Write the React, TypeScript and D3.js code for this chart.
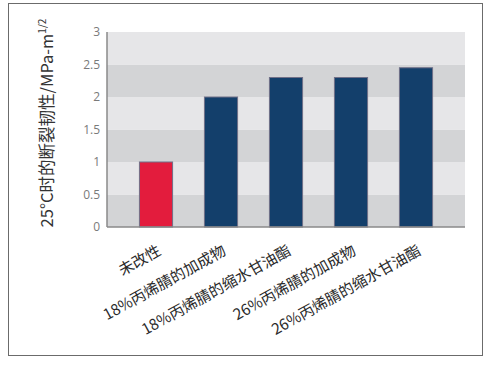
import { useRef, useEffect } from "react";
import * as d3 from "d3";

const categories = [
  "未改性",
  "18%丙烯腈的加成物",
  "18%丙烯腈的缩水甘油酯",
  "26%丙烯腈的加成物",
  "26%丙烯腈的缩水甘油酯",
];
const toughness = [1.0, 2.0, 2.3, 2.3, 2.45];
const barColors = ["#e31c3d", "#133f6b", "#133f6b", "#133f6b", "#133f6b"];
const yTicks = [0, 0.5, 1, 1.5, 2, 2.5, 3];
const yTickLabels = ["0", "0.5", "1", "1.5", "2", "2.5", "3"];

const W = 492;
const H = 365;

const Chart = () => {
  const svgRef = useRef(null);

  useEffect(() => {
    const svg = d3.select(svgRef.current);
    svg.selectAll("*").remove();

    const plot = { left: 107, right: 465, top: 32, bottom: 227 };

    // outer frame
    svg
      .append("rect")
      .attr("x", 8.5)
      .attr("y", 3.5)
      .attr("width", 474)
      .attr("height", 352)
      .attr("fill", "#fff")
      .attr("stroke", "#6b6b6b")
      .attr("stroke-width", 1);

    const y = d3.scaleLinear().domain([0, 3]).range([plot.bottom, plot.top]);

    const x = d3
      .scaleBand()
      .domain(categories)
      .range([123.5, 448.5])
      .paddingInner(0.49)
      .paddingOuter(0.245);

    // striped background
    const bands = d3.pairs(yTicks);
    svg
      .append("g")
      .selectAll("rect")
      .data(bands)
      .enter()
      .append("rect")
      .attr("x", plot.left)
      .attr("width", plot.right - plot.left)
      .attr("y", (d) => y(d[1]))
      .attr("height", (d) => y(d[0]) - y(d[1]))
      .attr("fill", (d, i) => (i % 2 === 0 ? "#d3d4d6" : "#e6e6e8"));

    // bars
    svg
      .append("g")
      .selectAll("rect")
      .data(toughness)
      .enter()
      .append("rect")
      .attr("x", (d, i) => x(categories[i]))
      .attr("width", x.bandwidth())
      .attr("y", (d) => y(d))
      .attr("height", (d) => y(0) - y(d))
      .attr("fill", (d, i) => barColors[i])
      .attr("stroke", "#707088")
      .attr("stroke-width", 1);

    // axis lines
    svg
      .append("line")
      .attr("x1", plot.left)
      .attr("x2", plot.left)
      .attr("y1", plot.top)
      .attr("y2", plot.bottom)
      .attr("stroke", "#8a8a8a")
      .attr("stroke-width", 1.5);
    svg
      .append("line")
      .attr("x1", plot.left)
      .attr("x2", plot.right)
      .attr("y1", plot.bottom)
      .attr("y2", plot.bottom)
      .attr("stroke", "#8a8a8a")
      .attr("stroke-width", 1.5);

    // y tick labels
    svg
      .append("g")
      .selectAll("text")
      .data(yTicks)
      .enter()
      .append("text")
      .attr("x", 100)
      .attr("y", (d) => y(d))
      .attr("dy", "0.35em")
      .attr("text-anchor", "end")
      .attr("font-family", "Open Sans, sans-serif")
      .attr("font-size", 12)
      .attr("fill", "#7a7a7a")
      .text((d, i) => yTickLabels[i]);

    // x labels, rotated
    svg
      .append("g")
      .selectAll("text")
      .data(categories)
      .enter()
      .append("text")
      .attr(
        "transform",
        (d) => `translate(${x(d) + x.bandwidth() / 2 + 6},${254}) rotate(-29)`
      )
      .attr("text-anchor", "end")
      .attr("font-family", "Noto Sans CJK SC, sans-serif")
      .attr("font-size", 15.2)
      .attr("fill", "#2a2a2a")
      .text((d) => d);

    // y title
    const title = svg
      .append("text")
      .attr("transform", `translate(53,${123}) rotate(-90)`)
      .attr("text-anchor", "middle")
      .attr("font-family", "Noto Sans CJK SC, sans-serif")
      .attr("font-size", 16.5)
      .attr("fill", "#333");
    title.append("tspan").text("25°C时的断裂韧性/MPa-m");
    title
      .append("tspan")
      .attr("dy", -7)
      .attr("font-size", 10)
      .text("1/2");
  }, []);

  return (
    <svg
      ref={svgRef}
      width={W}
      height={H}
      style={{ position: "absolute", left: 0, top: 0, background: "#fff" }}
    ></svg>
  );
};

export default function App() {
  return <Chart />;
}
